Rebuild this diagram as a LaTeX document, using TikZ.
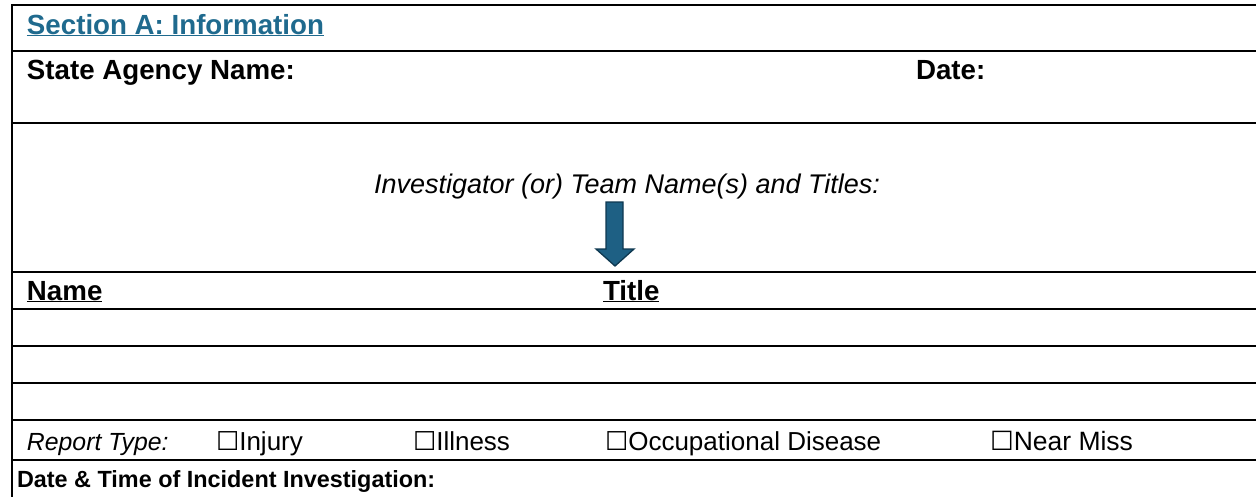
\documentclass[tikz,border=0pt]{standalone}
\usepackage{fontspec}
\setmainfont{Liberation Sans}
\newfontfamily\symfont{DejaVu Sans}
\definecolor{headblue}{RGB}{31,106,142}
\definecolor{arrowfill}{RGB}{30,96,132}
\definecolor{arrowedge}{RGB}{14,56,80}
\newcommand{\cbox}{{\symfont\char"2610}}
\tikzset{
  rule/.style={line width=2.9pt, line cap=rect},
  lbl/.style={anchor=base west, inner sep=0pt, outer sep=0pt},
  bigbold/.style={font=\fontsize{27.7}{32}\selectfont\bfseries},
  small/.style={font=\fontsize{26}{30}\selectfont},
}
\begin{document}
\begin{tikzpicture}[x=1pt,y=-1pt]
\useasboundingbox (0,0) rectangle (1256,496);
% table rules
\foreach \yy in {5,51,123,272,309,346,383,420,460}
  \draw[rule] (12,\yy) -- (1258,\yy);
\draw[rule] (12,5) -- (12,498);
% texts
\node[lbl,bigbold,text=headblue] (sec) at (27,34) {\underline{Section A: Information}};
\node[lbl,bigbold] (agency) at (27,79) {State Agency Name:};
\node[lbl,bigbold] (date) at (916,79) {Date:};
\node[anchor=base, inner sep=0pt, font=\fontsize{27}{32}\selectfont\itshape] (inv) at (627,193) {Investigator (or) Team Name(s) and Titles:};
\node[lbl,bigbold] (name) at (27,300) {\underline{Name}};
\node[lbl,bigbold] (title) at (603,300) {\underline{Title}};
\node[lbl,font=\fontsize{24.8}{28}\selectfont\itshape] (rtype) at (27,450) {Report Type:};
\node[lbl,small] (inj) at (216,450) {\cbox Injury};
\node[lbl,small] (ill) at (413,450) {\cbox Illness};
\node[lbl,small] (occ) at (605,450) {\cbox Occupational Disease};
\node[lbl,font=\fontsize{26.5}{30}\selectfont] (near) at (990,450) {\cbox Near Miss};
\node[lbl,font=\fontsize{23.4}{28}\selectfont\bfseries] (dtime) at (17,487) {Date \& Time of Incident Investigation:};
% arrow
\draw[fill=arrowfill, draw=arrowedge, line width=1.3pt, line join=miter]
  (606,202) -- (623,202) -- (623,249) -- (634,249) -- (615,266) -- (596,249) -- (606,249) -- cycle;
\end{tikzpicture}
\end{document}
